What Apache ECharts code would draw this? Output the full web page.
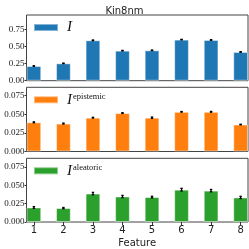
<!DOCTYPE html>
<html><head><meta charset="utf-8">
<script src="https://cdn.jsdelivr.net/npm/echarts@6/dist/echarts.min.js"></script>
<style>html,body{margin:0;padding:0;background:#fff}#c{width:249px;height:249px}</style>
</head><body><div id="c"></div>
<script>
const features = [1, 2, 3, 4, 5, 6, 7, 8];
const totalVals = [0.214, 0.253, 0.589, 0.438, 0.443, 0.599, 0.594, 0.419];
const totalErr = [0.004, 0.004, 0.005, 0.004, 0.004, 0.004, 0.004, 0.004];
const episVals = [0.0392, 0.0375, 0.0454, 0.0516, 0.0454, 0.0533, 0.0533, 0.0362];
const episErr = [0.0006, 0.0006, 0.0005, 0.0005, 0.0009, 0.0004, 0.0005, 0.0004];
const aleaVals = [0.0198, 0.0190, 0.0388, 0.0348, 0.0340, 0.0441, 0.0428, 0.0335];
const aleaErr = [0.0012, 0.0008, 0.0016, 0.0015, 0.0011, 0.0018, 0.0016, 0.0015];
const yTicks1 = [0, 0.25, 0.5, 0.75];
const yTicks2 = [0, 0.025, 0.05, 0.075];
const colors = ['#1f77b4', '#ff7f0e', '#2ca02c'];
const names = ['I', 'I_epistemic', 'I_aleatoric'];

const chart = echarts.init(document.getElementById('c'), null, {renderer: 'canvas'});
const grids = [
  {left: 26.5, top: 15, width: 221.5, height: 65.7},
  {left: 26.5, top: 87.3, width: 221.5, height: 64.2},
  {left: 26.5, top: 158.3, width: 221.5, height: 65.7}
];
const ymax = [0.958, 0.0862, 0.0869];
const tickSets = [yTicks1, yTicks2, yTicks2];
const digits = [2, 3, 3];
const vals = [totalVals, episVals, aleaVals];
const errs = [totalErr, episErr, aleaErr];

const xAxes = grids.map((g, i) => ({
  type: 'value', gridIndex: i, min: 0.75, max: 8.25,
  axisLine: {show: false}, splitLine: {show: false},
  axisTick: {show: i === 2, length: 3, lineStyle: {color: '#333'}, customValues: features},
  axisLabel: {show: i === 2, customValues: features, fontFamily: 'DejaVu Sans', fontSize: 10, color: '#222', margin: 3},
  name: i === 2 ? 'Feature' : '', nameLocation: 'middle', nameGap: 16,
  nameTextStyle: {fontFamily: 'DejaVu Sans', fontSize: 10, color: '#222'}
}));
const yAxes = grids.map((g, i) => ({
  type: 'value', gridIndex: i, min: 0, max: ymax[i],
  axisLine: {show: false}, splitLine: {show: false},
  axisTick: {show: true, length: 2, lineStyle: {color: '#333'}, customValues: tickSets[i]},
  axisLabel: {customValues: tickSets[i], formatter: v => v.toFixed(digits[i]), fontFamily: 'Liberation Serif', fontSize: 9, color: '#222', margin: 2}
}));

const series = [];
vals.forEach((arr, i) => {
  series.push({
    type: 'bar', name: names[i], xAxisIndex: i, yAxisIndex: i,
    data: arr.map((v, k) => [features[k], v]), barWidth: 14.7,
    itemStyle: {color: colors[i], borderColor: 'rgba(255,255,255,0.45)', borderWidth: 1}
  });
  series.push({
    type: 'custom', xAxisIndex: i, yAxisIndex: i, z: 5,
    data: arr.map((v, k) => [features[k], v - errs[i][k], v + errs[i][k]]),
    renderItem: (params, api) => {
      const lo = api.coord([api.value(0), api.value(1)]);
      const hi = api.coord([api.value(0), api.value(2)]);
      const st = {stroke: '#000', lineWidth: 1.3};
      return {type: 'group', children: [
        {type: 'line', shape: {x1: lo[0], y1: lo[1], x2: hi[0], y2: hi[1]}, style: st},
        {type: 'line', shape: {x1: lo[0] - 1.2, y1: lo[1], x2: lo[0] + 1.2, y2: lo[1]}, style: st},
        {type: 'line', shape: {x1: hi[0] - 1.2, y1: hi[1], x2: hi[0] + 1.2, y2: hi[1]}, style: st}
      ]};
    }
  });
});

const sup = ['', 'epistemic', 'aleatoric'];
const legends = grids.map((g, i) => ({
  data: [names[i]], left: 33, top: g.top + 5, padding: 0, itemWidth: 24, itemHeight: 7, itemGap: 6,
  icon: 'rect', selectedMode: false,
  formatter: () => sup[i] ? '{i|I}{s|' + sup[i] + '}' : '{i|I}',
  textStyle: {padding: [0, 0, 0, 4], rich: {
    i: {fontFamily: 'Liberation Serif', fontStyle: 'italic', fontSize: 15, color: '#111', verticalAlign: 'bottom', padding: [0, 1, 0, 0]},
    s: {fontFamily: 'Liberation Serif', fontSize: 8.5, color: '#111', verticalAlign: 'top', padding: [0, 0, 6, 0]}
  }}
}));

chart.setOption({
  animation: false,
  title: {text: 'Kin8nm', left: 'center', top: 1, textStyle: {fontFamily: 'DejaVu Sans', fontSize: 10, fontWeight: 'normal', color: '#222'}},
  grid: grids.map(g => Object.assign({show: true, borderColor: '#444', borderWidth: 1, backgroundColor: 'transparent'}, g)),
  xAxis: xAxes, yAxis: yAxes, legend: legends, series: series
});
</script></body></html>
